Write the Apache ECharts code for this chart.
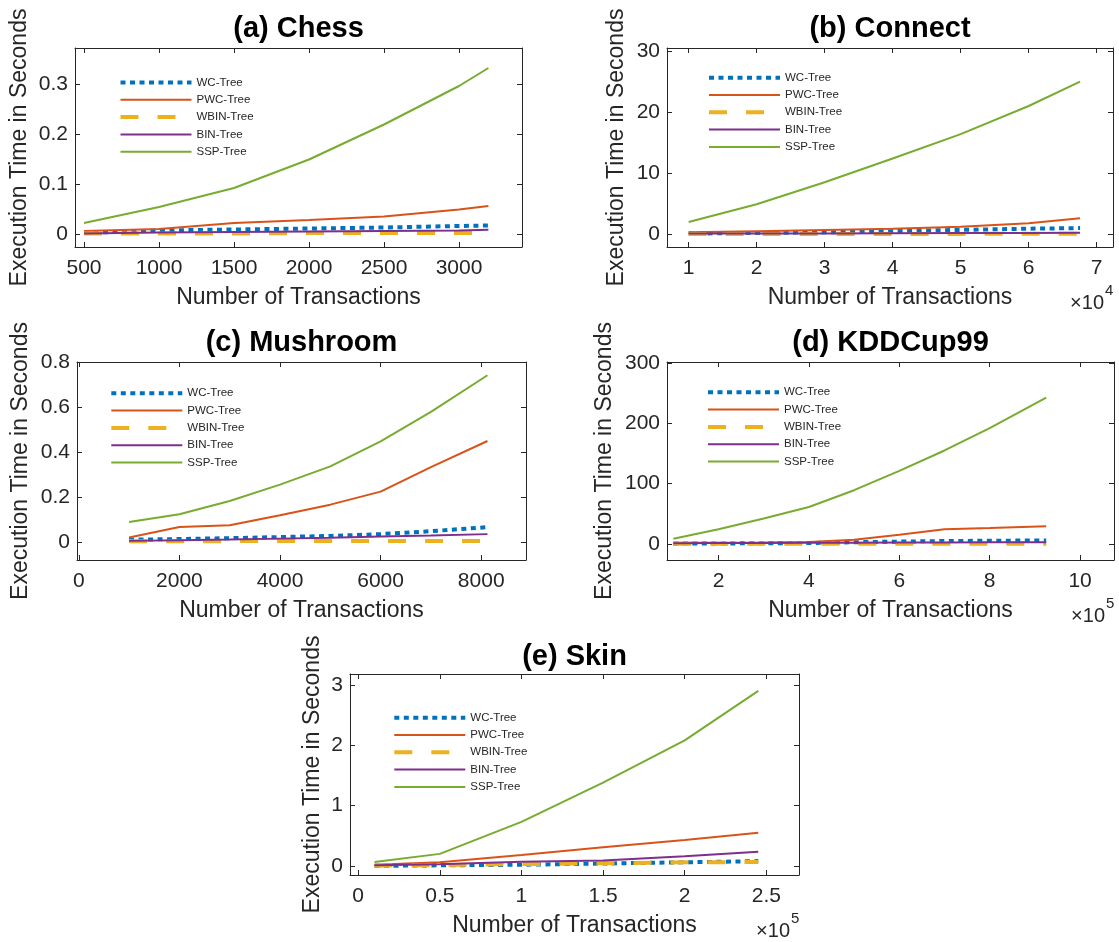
<!DOCTYPE html>
<html>
<head>
<meta charset="utf-8">
<title>Execution time of tree structures</title>
<script src="https://cdn.jsdelivr.net/npm/echarts@6/dist/echarts.min.js"></script>
<style>
  html, body { margin: 0; padding: 0; background: #ffffff; }
  #chart { width: 1119px; height: 942px; }
</style>
</head>
<body>
<div id="chart"></div>
<script>
// ---- data -------------------------------------------------------------
const seriesNames = ['WC-Tree', 'PWC-Tree', 'WBIN-Tree', 'BIN-Tree', 'SSP-Tree'];

// (a) Chess
const chessX    = [500, 1000, 1500, 2000, 2500, 3000, 3196];
const chessWC   = [0.002, 0.007, 0.009, 0.011, 0.013, 0.016, 0.017];
const chessPWC  = [0.006, 0.010, 0.022, 0.028, 0.035, 0.049, 0.056];
const chessWBIN = [0.001, 0.001, 0.001, 0.002, 0.002, 0.002, 0.002];
const chessBIN  = [0.001, 0.003, 0.004, 0.005, 0.006, 0.007, 0.0085];
const chessSSP  = [0.022, 0.054, 0.092, 0.149, 0.219, 0.296, 0.332];
const chessXTicks = [500, 1000, 1500, 2000, 2500, 3000];
const chessYTicks = [0, 0.1, 0.2, 0.3];

// (b) Connect
const connectX    = [10000, 20000, 30000, 40000, 50000, 60000, 67557];
const connectWC   = [0.1, 0.2, 0.3, 0.5, 0.7, 0.9, 1.0];
const connectPWC  = [0.3, 0.5, 0.7, 0.9, 1.2, 1.8, 2.6];
const connectWBIN = [0.02, 0.03, 0.04, 0.05, 0.05, 0.06, 0.06];
const connectBIN  = [0.1, 0.1, 0.1, 0.15, 0.2, 0.2, 0.25];
const connectSSP  = [2.0, 4.9, 8.5, 12.4, 16.4, 21.0, 25.0];
const connectXTicks = [10000, 20000, 30000, 40000, 50000, 60000, 70000];
const connectYTicks = [0, 10, 20, 30];

// (c) Mushroom
const mushroomX    = [1000, 2000, 3000, 4000, 5000, 6000, 7000, 8124];
const mushroomWC   = [0.010, 0.013, 0.017, 0.022, 0.027, 0.035, 0.048, 0.066];
const mushroomPWC  = [0.020, 0.067, 0.074, 0.119, 0.166, 0.224, 0.333, 0.449];
const mushroomWBIN = [0.003, 0.003, 0.004, 0.004, 0.004, 0.005, 0.005, 0.005];
const mushroomBIN  = [0.005, 0.008, 0.011, 0.015, 0.019, 0.024, 0.029, 0.035];
const mushroomSSP  = [0.089, 0.123, 0.182, 0.255, 0.336, 0.447, 0.578, 0.741];
const mushroomXTicks = [0, 2000, 4000, 6000, 8000];
const mushroomYTicks = [0, 0.2, 0.4, 0.6, 0.8];

// (d) KDDCup99
const kddX    = [100000, 200000, 300000, 400000, 500000, 600000, 700000, 800000, 925000];
const kddWC   = [0.2, 0.5, 0.8, 1.2, 2.5, 3.5, 4.5, 5.0, 5.5];
const kddPWC  = [1.5, 1.8, 2.2, 3.0, 6.5, 15, 24, 26, 29];
const kddWBIN = [0.1, 0.1, 0.1, 0.1, 0.2, 0.2, 0.2, 0.2, 0.2];
const kddBIN  = [1.0, 1.2, 1.4, 1.6, 1.8, 2.0, 2.2, 2.4, 2.7];
const kddSSP  = [8.3, 24, 42, 61, 89, 121, 155, 192, 243];
const kddXTicks = [200000, 400000, 600000, 800000, 1000000];
const kddYTicks = [0, 100, 200, 300];

// (e) Skin
const skinX    = [10000, 50000, 100000, 150000, 200000, 245057];
const skinWC   = [0.002, 0.01, 0.02, 0.04, 0.06, 0.08];
const skinPWC  = [0.02, 0.06, 0.18, 0.31, 0.43, 0.55];
const skinWBIN = [0.005, 0.015, 0.03, 0.045, 0.06, 0.065];
const skinBIN  = [0.01, 0.03, 0.07, 0.09, 0.16, 0.235];
const skinSSP  = [0.066, 0.20, 0.73, 1.38, 2.08, 2.90];
const skinXTicks = [0, 50000, 100000, 150000, 200000, 250000];
const skinYTicks = [0, 1, 2, 3];

// ---- styling ----------------------------------------------------------
const FONT = '"Liberation Sans", Arial, Helvetica, sans-serif';
const AXIS_COLOR = '#262626';
const lineStyles = [
  { color: '#0072BD', width: 4, type: [5, 4.5] },   // WC-Tree, dotted
  { color: '#D95319', width: 2, type: 'solid' },     // PWC-Tree
  { color: '#EDB120', width: 4, type: [18, 19] },    // WBIN-Tree, long dashes
  { color: '#7E2F8E', width: 2, type: 'solid' },     // BIN-Tree
  { color: '#77AC30', width: 2, type: 'solid' }      // SSP-Tree
];

// one entry per subplot: data, box in pixels and axis limits
const panels = [
  { title: '(a) Chess', x: chessX, ys: [chessWC, chessPWC, chessWBIN, chessBIN, chessSSP],
    xTicks: chessXTicks, yTicks: chessYTicks, xDiv: 1, exp: null,
    box: { left: 75, top: 48, width: 447, height: 199 }, xRange: [440, 3420], yRange: [-0.026, 0.372],
    legend: { left: 118.5, row: 82.5 }, yTitleX: 19.5, titleY: 29 },
  { title: '(b) Connect', x: connectX, ys: [connectWC, connectPWC, connectWBIN, connectBIN, connectSSP],
    xTicks: connectXTicks, yTicks: connectYTicks, xDiv: 1e4, exp: '4',
    box: { left: 667, top: 48, width: 446, height: 199 }, xRange: [6820, 72400], yRange: [-2.1, 30.5],
    legend: { left: 707, row: 77.7 }, yTitleX: 617, titleY: 29 },
  { title: '(c) Mushroom', x: mushroomX, ys: [mushroomWC, mushroomPWC, mushroomWBIN, mushroomBIN, mushroomSSP],
    xTicks: mushroomXTicks, yTicks: mushroomYTicks, xDiv: 1, exp: null,
    box: { left: 77, top: 362, width: 449, height: 198 }, xRange: [-35, 8890], yRange: [-0.08, 0.8],
    legend: { left: 109.3, row: 393.3 }, yTitleX: 20.5, titleY: 342.5 },
  { title: '(d) KDDCup99', x: kddX, ys: [kddWC, kddPWC, kddWBIN, kddBIN, kddSSP],
    xTicks: kddXTicks, yTicks: kddYTicks, xDiv: 1e5, exp: '5',
    box: { left: 667, top: 362, width: 447, height: 198 }, xRange: [86000, 1075000], yRange: [-27, 302],
    legend: { left: 706, row: 392.3 }, yTitleX: 605, titleY: 342.5 },
  { title: '(e) Skin', x: skinX, ys: [skinWC, skinPWC, skinWBIN, skinBIN, skinSSP],
    xTicks: skinXTicks, yTicks: skinYTicks, xDiv: 1e5, exp: '5',
    box: { left: 350, top: 674, width: 449, height: 201 }, xRange: [-5000, 270000], yRange: [-0.15, 3.18],
    legend: { left: 392.3, row: 717.7 }, yTitleX: 312.5, titleY: 656.5 }
];

function fmt(v, div) {
  return String(+(v / div).toFixed(6));
}

const grids = [], xAxes = [], yAxes = [], legends = [], series = [], texts = [];

panels.forEach(function (p, i) {
  const b = p.box;
  grids.push({ left: b.left, top: b.top, width: b.width, height: b.height,
               containLabel: false, outerBoundsMode: 'none' });

  const line = { show: true, onZero: false, lineStyle: { color: AXIS_COLOR, width: 1 } };
  const tickX = { show: true, inside: true, length: 5, customValues: p.xTicks,
                  lineStyle: { color: AXIS_COLOR, width: 1 } };
  const tickY = { show: true, inside: true, length: 5, customValues: p.yTicks,
                  lineStyle: { color: AXIS_COLOR, width: 1 } };

  // bottom and top x axes (box outline with ticks on both sides)
  xAxes.push({
    type: 'value', gridIndex: i, position: 'bottom', min: p.xRange[0], max: p.xRange[1],
    axisLine: line, axisTick: tickX, splitLine: { show: false },
    axisLabel: { customValues: p.xTicks, margin: 11, fontSize: 21, fontFamily: FONT,
                 color: AXIS_COLOR, formatter: (v) => fmt(v, p.xDiv) }
  });
  xAxes.push({
    type: 'value', gridIndex: i, position: 'top', min: p.xRange[0], max: p.xRange[1],
    axisLine: line, axisTick: tickX, splitLine: { show: false }, axisLabel: { show: false }
  });
  // left and right y axes
  yAxes.push({
    type: 'value', gridIndex: i, position: 'left', min: p.yRange[0], max: p.yRange[1],
    axisLine: line, axisTick: tickY, splitLine: { show: false },
    axisLabel: { customValues: p.yTicks, margin: 7, fontSize: 21, fontFamily: FONT,
                 color: AXIS_COLOR, formatter: (v) => fmt(v, 1) }
  });
  yAxes.push({
    type: 'value', gridIndex: i, position: 'right', min: p.yRange[0], max: p.yRange[1],
    axisLine: line, axisTick: tickY, splitLine: { show: false }, axisLabel: { show: false }
  });

  seriesNames.forEach(function (name, k) {
    series.push({
      type: 'line', name: name,
      xAxisIndex: 2 * i, yAxisIndex: 2 * i,
      data: p.x.map((xv, j) => [xv, p.ys[k][j]]),
      symbol: 'none', showSymbol: false, silent: true, clip: true,
      color: lineStyles[k].color,
      lineStyle: lineStyles[k],
      z: 2 + k
    });
  });

  // legend shows only the line sample of each series (the marker is hidden)
  legends.push({
    orient: 'vertical', left: p.legend.left, top: p.legend.row - 6,
    itemWidth: 71, itemHeight: 12, itemGap: 5.3, selectedMode: false, padding: 0,
    textStyle: { fontSize: 11.5, fontFamily: FONT, color: AXIS_COLOR },
    data: seriesNames.map((n, k) => ({
      name: n,
      lineStyle: lineStyles[k],
      itemStyle: { opacity: 0, color: 'rgba(0,0,0,0)', borderWidth: 0 }
    }))
  });

  const cx = b.left + b.width / 2;
  const cy = b.top + b.height / 2;
  const bottom = b.top + b.height;

  // subplot title
  texts.push({ type: 'text', x: cx, y: p.titleY, silent: true,
    style: { text: p.title, align: 'center', verticalAlign: 'middle', fill: '#000000',
             font: 'bold 29px ' + FONT } });
  // x axis title
  texts.push({ type: 'text', x: cx, y: bottom + 50.5, silent: true,
    style: { text: 'Number of Transactions', align: 'center', verticalAlign: 'middle',
             fill: AXIS_COLOR, font: '23px ' + FONT } });
  // y axis title
  texts.push({ type: 'text', x: p.yTitleX, y: cy, rotation: Math.PI / 2, silent: true,
    style: { text: 'Execution Time in Seconds', align: 'center', verticalAlign: 'middle',
             fill: AXIS_COLOR, font: '23px ' + FONT } });
  // power-of-ten multiplier of the x axis
  if (p.exp) {
    const right = b.left + b.width - 9;
    texts.push({ type: 'text', x: right, y: bottom + 56, silent: true,
      style: { text: '\u00d710', align: 'right', verticalAlign: 'middle',
               fill: AXIS_COLOR, font: '20px ' + FONT } });
    texts.push({ type: 'text', x: right + 1, y: bottom + 44, silent: true,
      style: { text: p.exp, align: 'left', verticalAlign: 'middle',
               fill: AXIS_COLOR, font: '15px ' + FONT } });
  }
});

const chart = echarts.init(document.getElementById('chart'), null, { renderer: 'canvas' });
chart.setOption({
  animation: false,
  backgroundColor: '#ffffff',
  grid: grids,
  xAxis: xAxes,
  yAxis: yAxes,
  legend: legends,
  series: series,
  graphic: { elements: texts }
});
</script>
</body>
</html>
